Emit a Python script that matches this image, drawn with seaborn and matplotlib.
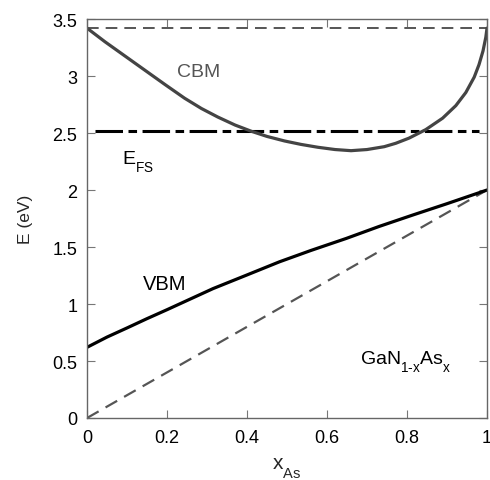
import matplotlib
matplotlib.use("Agg")
import matplotlib.pyplot as plt
import seaborn as sns
import numpy as np
import pandas as pd

try:
    import matplotlib._mathtext as _mt
    _mt.FontConstantsBase.sub1 = 0.85
    _mt.FontConstantsBase.subdrop = 0.6
except Exception:
    pass

# ---- data ----
cbm_x = [0.0, 0.045, 0.095, 0.145, 0.195, 0.244, 0.286, 0.327, 0.37, 0.411, 0.45, 0.494,
         0.535, 0.577, 0.62, 0.66, 0.70, 0.743, 0.772, 0.805, 0.847, 0.889, 0.922, 0.947,
         0.968, 0.980, 0.990, 0.997, 1.0]
cbm_e = [3.42, 3.30, 3.175, 3.05, 2.925, 2.805, 2.715, 2.64, 2.57, 2.515, 2.47, 2.43,
         2.40, 2.375, 2.355, 2.345, 2.355, 2.38, 2.41, 2.455, 2.53, 2.63, 2.74, 2.855,
         2.99, 3.10, 3.22, 3.34, 3.42]

vbm_x = [0.0, 0.05, 0.10, 0.149, 0.20, 0.315, 0.40, 0.481, 0.56, 0.648, 0.73, 0.814, 0.90, 1.0]
vbm_e = [0.62, 0.71, 0.79, 0.87, 0.95, 1.135, 1.255, 1.37, 1.47, 1.575, 1.68, 1.78, 1.88, 2.0]

lin_x = [0.0, 1.0]
lin_e = [0.0, 2.0]

gan_cbm_x = [0.0, 1.0]
gan_cbm_e = [3.42, 3.42]

efs_x = [0.02, 0.98]
efs_e = [2.52, 2.52]

xticks = [0, 0.2, 0.4, 0.6, 0.8, 1]
xticklabels = ["0", "0.2", "0.4", "0.6", "0.8", "1"]
yticks = [0, 0.5, 1, 1.5, 2, 2.5, 3, 3.5]
yticklabels = ["0", "0.5", "1", "1.5", "2", "2.5", "3", "3.5"]

sns.set_theme(style="ticks")
plt.rcParams["font.family"] = ["Liberation Sans", "DejaVu Sans"]
plt.rcParams["mathtext.fontset"] = "custom"
plt.rcParams["mathtext.rm"] = "Liberation Sans"
plt.rcParams["mathtext.it"] = "Liberation Sans"

fig = plt.figure(figsize=(4.90, 4.81), dpi=100)
ax = fig.add_axes([0.1776, 0.1289, 0.8163, 0.8295])

gray = "#555555"
sns.lineplot(x=gan_cbm_x, y=gan_cbm_e, ax=ax, color=gray, lw=1.4)
ax.lines[-1].set_dashes((6.0, 3.6))
sns.lineplot(x=lin_x, y=lin_e, ax=ax, color=gray, lw=1.6)
ax.lines[-1].set_dashes((6.0, 3.6))
sns.lineplot(x=efs_x, y=efs_e, ax=ax, color="black", lw=2.2)
ax.lines[-1].set_dashes((9.0, 1.8, 2.8, 1.8))
sns.lineplot(x=cbm_x, y=cbm_e, ax=ax, color="#444444", lw=2.3, sort=False)
sns.lineplot(x=vbm_x, y=vbm_e, ax=ax, color="black", lw=2.3, sort=False)

ax.set_xlim(0, 1)
ax.set_ylim(0, 3.5)
ax.set_xticks(xticks)
ax.set_xticklabels(xticklabels)
ax.set_yticks(yticks)
ax.set_yticklabels(yticklabels)
ax.tick_params(direction="in", length=6, width=0.8, color="#777777",
               top=True, right=True, labelsize=13, labelcolor="black")
ax.tick_params(axis="x", pad=8)
ax.tick_params(axis="y", pad=7)
for s in ax.spines.values():
    s.set_color("#666666")
    s.set_linewidth(1.0)

ax.set_xlabel(r"x$_{\mathregular{As}}$", fontsize=15, labelpad=7)
ax.set_ylabel("E (eV)", fontsize=12.5, labelpad=14)

ax.text(0.224, 3.0, "CBM", color="#555555", fontsize=14, ha="left", va="baseline")
ax.text(0.087, 2.234, r"E$_{\mathregular{FS}}$", color="black", fontsize=14, ha="left", va="baseline")
ax.text(0.14, 1.128, "VBM", color="black", fontsize=14.5, ha="left", va="baseline")
ax.text(0.683, 0.475, r"GaN$_{\mathregular{1\text{-}x}}$As$_{\mathregular{x}}$", color="black",
        fontsize=14, ha="left", va="baseline")

fig.savefig("out.png", dpi=100)
